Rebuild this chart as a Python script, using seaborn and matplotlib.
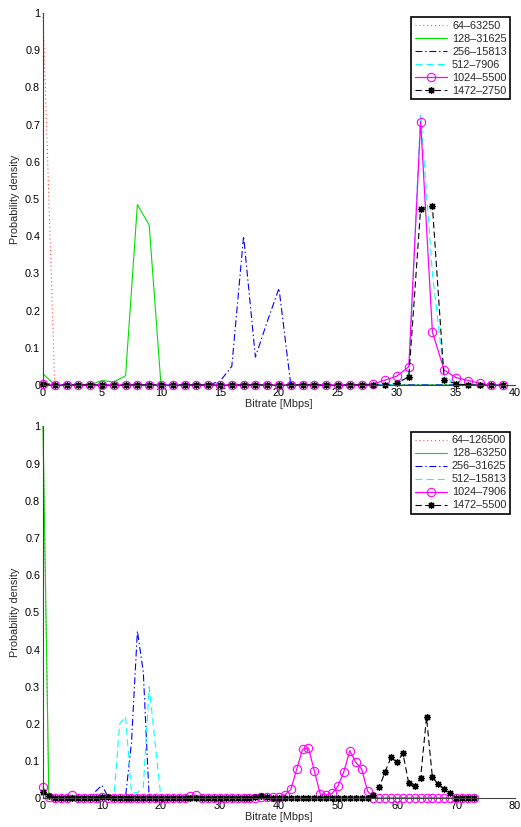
import matplotlib
matplotlib.use("Agg")
import matplotlib.pyplot as plt
import seaborn as sns
import pandas as pd

# ---------------- data ----------------
x_top = list(range(0, 40))
x_bottom = list(range(0, 74))

labels_top = ["64–63250", "128–31625", "256–15813", "512–7906", "1024–5500", "1472–2750"]
labels_bottom = ["64–126500", "128–63250", "256–31625", "512–15813", "1024–7906", "1472–5500"]

red_top = [1.0, 0, 0, 0, 0, 0, 0, 0, 0, 0,
           0, 0, 0, 0, 0, 0, 0, 0, 0, 0,
           0, 0, 0, 0, 0, 0, 0, 0, 0, 0,
           0, 0, 0, 0, 0, 0, 0, 0, 0, 0]
green_top = [0.03, 0, 0, 0, 0, 0.012, 0.008, 0.025, 0.485, 0.43,
             0, 0, 0, 0, 0, 0, 0, 0, 0, 0,
             0, 0, 0, 0, 0, 0, 0, 0, 0, 0,
             0, 0, 0, 0, 0, 0, 0, 0, 0, 0]
blue_top = [0.005, 0, 0, 0, 0, 0, 0, 0, 0, 0,
            0, 0, 0, 0, 0, 0.01, 0.05, 0.40, 0.075, 0.17,
            0.26, 0, 0, 0, 0, 0, 0, 0, 0, 0,
            0, 0, 0, 0, 0, 0, 0, 0, 0, 0]
cyan_top = [0, 0, 0, 0, 0, 0, 0, 0, 0, 0,
            0, 0, 0, 0, 0, 0, 0, 0, 0, 0,
            0, 0, 0, 0, 0, 0, 0, 0, 0, 0,
            0, 0.03, 0.73, 0.30, 0.025, 0, 0, 0, 0, 0]
pink_top = [0.003, 0, 0, 0, 0, 0, 0, 0, 0, 0,
            0, 0, 0, 0, 0, 0, 0, 0, 0, 0,
            0, 0, 0, 0, 0, 0, 0, 0, 0.003, 0.013,
            0.024, 0.049, 0.708, 0.142, 0.04, 0.02, 0.012, 0.005, 0, 0]
black_top = [0.003, 0, 0, 0, 0, 0, 0, 0, 0, 0,
             0, 0, 0, 0, 0, 0, 0, 0, 0, 0,
             0, 0, 0, 0, 0, 0, 0, 0, 0, 0,
             0.005, 0.022, 0.473, 0.481, 0.013, 0.003, 0, 0, 0, 0]

red_bottom = [1.0, 0, 0, 0, 0, 0, 0, 0, 0, 0,
              0, 0, 0, 0, 0, 0, 0, 0, 0, 0,
              0, 0, 0, 0, 0, 0, 0, 0, 0, 0,
              0, 0, 0, 0, 0, 0, 0, 0, 0, 0,
              0, 0, 0, 0, 0, 0, 0, 0, 0, 0,
              0, 0, 0, 0, 0, 0, 0, 0, 0, 0,
              0, 0, 0, 0, 0, 0, 0, 0, 0, 0,
              0, 0, 0, 0]
green_bottom = [1.0, 0, 0, 0, 0, 0, 0, 0, 0, 0,
                0, 0, 0, 0, 0, 0, 0, 0, 0, 0,
                0, 0, 0, 0, 0, 0, 0, 0, 0, 0,
                0, 0, 0, 0, 0, 0, 0, 0, 0, 0,
                0, 0, 0, 0, 0, 0, 0, 0, 0, 0,
                0, 0, 0, 0, 0, 0, 0, 0, 0, 0,
                0, 0, 0, 0, 0, 0, 0, 0, 0, 0,
                0, 0, 0, 0]
blue_bottom = [0, 0, 0, 0, 0, 0, 0, 0, 0, 0.02,
               0.035, 0.005, 0, 0, 0.005, 0.15, 0.45, 0.34, 0, 0,
               0, 0, 0, 0, 0, 0, 0, 0, 0, 0,
               0, 0, 0, 0, 0, 0, 0, 0, 0, 0,
               0, 0, 0, 0, 0, 0, 0, 0, 0, 0,
               0, 0, 0, 0, 0, 0, 0, 0, 0, 0,
               0, 0, 0, 0, 0, 0, 0, 0, 0, 0,
               0, 0, 0, 0]
cyan_bottom = [0, 0, 0, 0, 0, 0, 0, 0, 0, 0,
               0, 0, 0, 0.2, 0.22, 0.015, 0.015, 0.03, 0.30, 0.15,
               0, 0, 0, 0, 0, 0, 0, 0, 0, 0,
               0, 0, 0, 0, 0, 0, 0, 0, 0, 0,
               0, 0, 0, 0, 0, 0, 0, 0, 0, 0,
               0, 0, 0, 0, 0, 0, 0, 0, 0, 0,
               0, 0, 0, 0, 0, 0, 0, 0, 0, 0,
               0, 0, 0, 0]
pink_bottom = [0.03, 0.003, 0, 0, 0, 0.008, 0, 0, 0, 0,
               0.003, 0, 0, 0, 0, 0, 0, 0, 0, 0,
               0, 0, 0, 0, 0, 0.006, 0.008, 0, 0, 0,
               0, 0, 0, 0, 0, 0, 0, 0.004, 0.003, 0.004,
               0.003, 0.009, 0.024, 0.078, 0.132, 0.135, 0.073, 0.011, 0.009, 0.013,
               0.033, 0.072, 0.128, 0.097, 0.079, 0.02, 0, 0, 0, 0,
               0, 0, 0, 0, 0, 0, 0, 0, 0, 0,
               0, 0, 0, 0]
black_bottom = [0.018, 0.005, 0, 0, 0, 0, 0, 0, 0, 0,
                0.004, 0.003, 0, 0, 0, 0, 0, 0, 0, 0,
                0, 0, 0, 0, 0, 0, 0, 0, 0, 0,
                0, 0, 0, 0, 0, 0, 0.004, 0.006, 0.003, 0,
                0, 0, 0, 0, 0, 0, 0, 0, 0, 0,
                0, 0, 0, 0, 0, 0, 0.009, 0.03, 0.072, 0.11,
                0.097, 0.121, 0.04, 0.033, 0.055, 0.218, 0.056, 0.038, 0.024, 0.014,
                0, 0, 0, 0]

y_ticks = [0, 0.1, 0.2, 0.3, 0.4, 0.5, 0.6, 0.7, 0.8, 0.9, 1.0]
y_tick_labels = ["0", "0.1", "0.2", "0.3", "0.4", "0.5", "0.6", "0.7", "0.8", "0.9", "1"]
x_ticks_top = [0, 5, 10, 15, 20, 25, 30, 35, 40]
x_ticks_bottom = [0, 10, 20, 30, 40, 50, 60, 70, 80]

# ---------------- styling ----------------
sns.set_style("white")
plt.rcParams['font.family'] = ['Liberation Sans', 'DejaVu Sans']
plt.rcParams['lines.scale_dashes'] = False
FS = 7.8

styles = [
    dict(color=(1.0, 0.3, 0.3), linestyle=(0, (0.8, 2.0)), linewidth=0.8),
    dict(color='#00e000', linestyle='-', linewidth=0.8),
    dict(color='#0000ff', linestyle=(0, (5, 2, 1, 2)), linewidth=0.8),
    dict(color='#00ffff', linestyle=(0, (5, 3)), linewidth=0.8),
    dict(color='#ff00ff', linestyle='-', linewidth=0.9, marker='o', markersize=6,
         markerfacecolor='none', markeredgecolor='#ff00ff', markeredgewidth=0.8),
    dict(color='black', linestyle=(0, (4.5, 2.5)), linewidth=0.8, marker=(8, 2, 0), markersize=5,
         markerfacecolor='black', markeredgecolor='black', markeredgewidth=0.9),
]

fig = plt.figure(figsize=(5.21, 8.27), dpi=100)
ax1 = fig.add_axes([0.0825, 0.5345, 0.906, 0.4498])
ax2 = fig.add_axes([0.0825, 0.0347, 0.906, 0.4496])

panels = [
    (ax1, x_top, [red_top, green_top, blue_top, cyan_top, pink_top, black_top],
     labels_top, x_ticks_top, (0, 40), 0.988),
    (ax2, x_bottom, [red_bottom, green_bottom, blue_bottom, cyan_bottom, pink_bottom, black_bottom],
     labels_bottom, x_ticks_bottom, (0, 80), 0.985),
]

for ax, xs, series, labels, xt, xlim, leg_y in panels:
    for ys, lab, st in zip(series, labels, styles):
        df = pd.DataFrame({"x": xs, "y": ys})
        sns.lineplot(data=df, x="x", y="y", ax=ax, label=lab, clip_on=False, **st)
    ax.set_xlim(*xlim)
    ax.set_ylim(0, 1)
    ax.set_xticks(xt)
    ax.set_xticklabels([str(v) for v in xt])
    ax.set_yticks(y_ticks)
    ax.set_yticklabels(y_tick_labels)
    ax.tick_params(direction='in', length=3, width=0.7, colors='#333333',
                   labelcolor='black', labelsize=FS, pad=2)
    for side in ['top', 'right']:
        ax.spines[side].set_visible(False)
    for side in ['left', 'bottom']:
        ax.spines[side].set_color('#444444')
        ax.spines[side].set_linewidth(0.8)
    ax.set_xlabel("Bitrate [Mbps]", fontsize=FS, labelpad=1)
    ax.set_ylabel("Probability density", fontsize=FS, labelpad=4)
    ax.grid(False)
    leg = ax.legend(loc='upper right', bbox_to_anchor=(0.9894, leg_y), borderaxespad=0,
                    fancybox=False, edgecolor='black', framealpha=1, fontsize=FS,
                    handlelength=3.0, handletextpad=0.45, labelspacing=0.28, borderpad=0.3)
    leg.get_frame().set_linewidth(1.2)

fig.savefig("out.png", dpi=100)
